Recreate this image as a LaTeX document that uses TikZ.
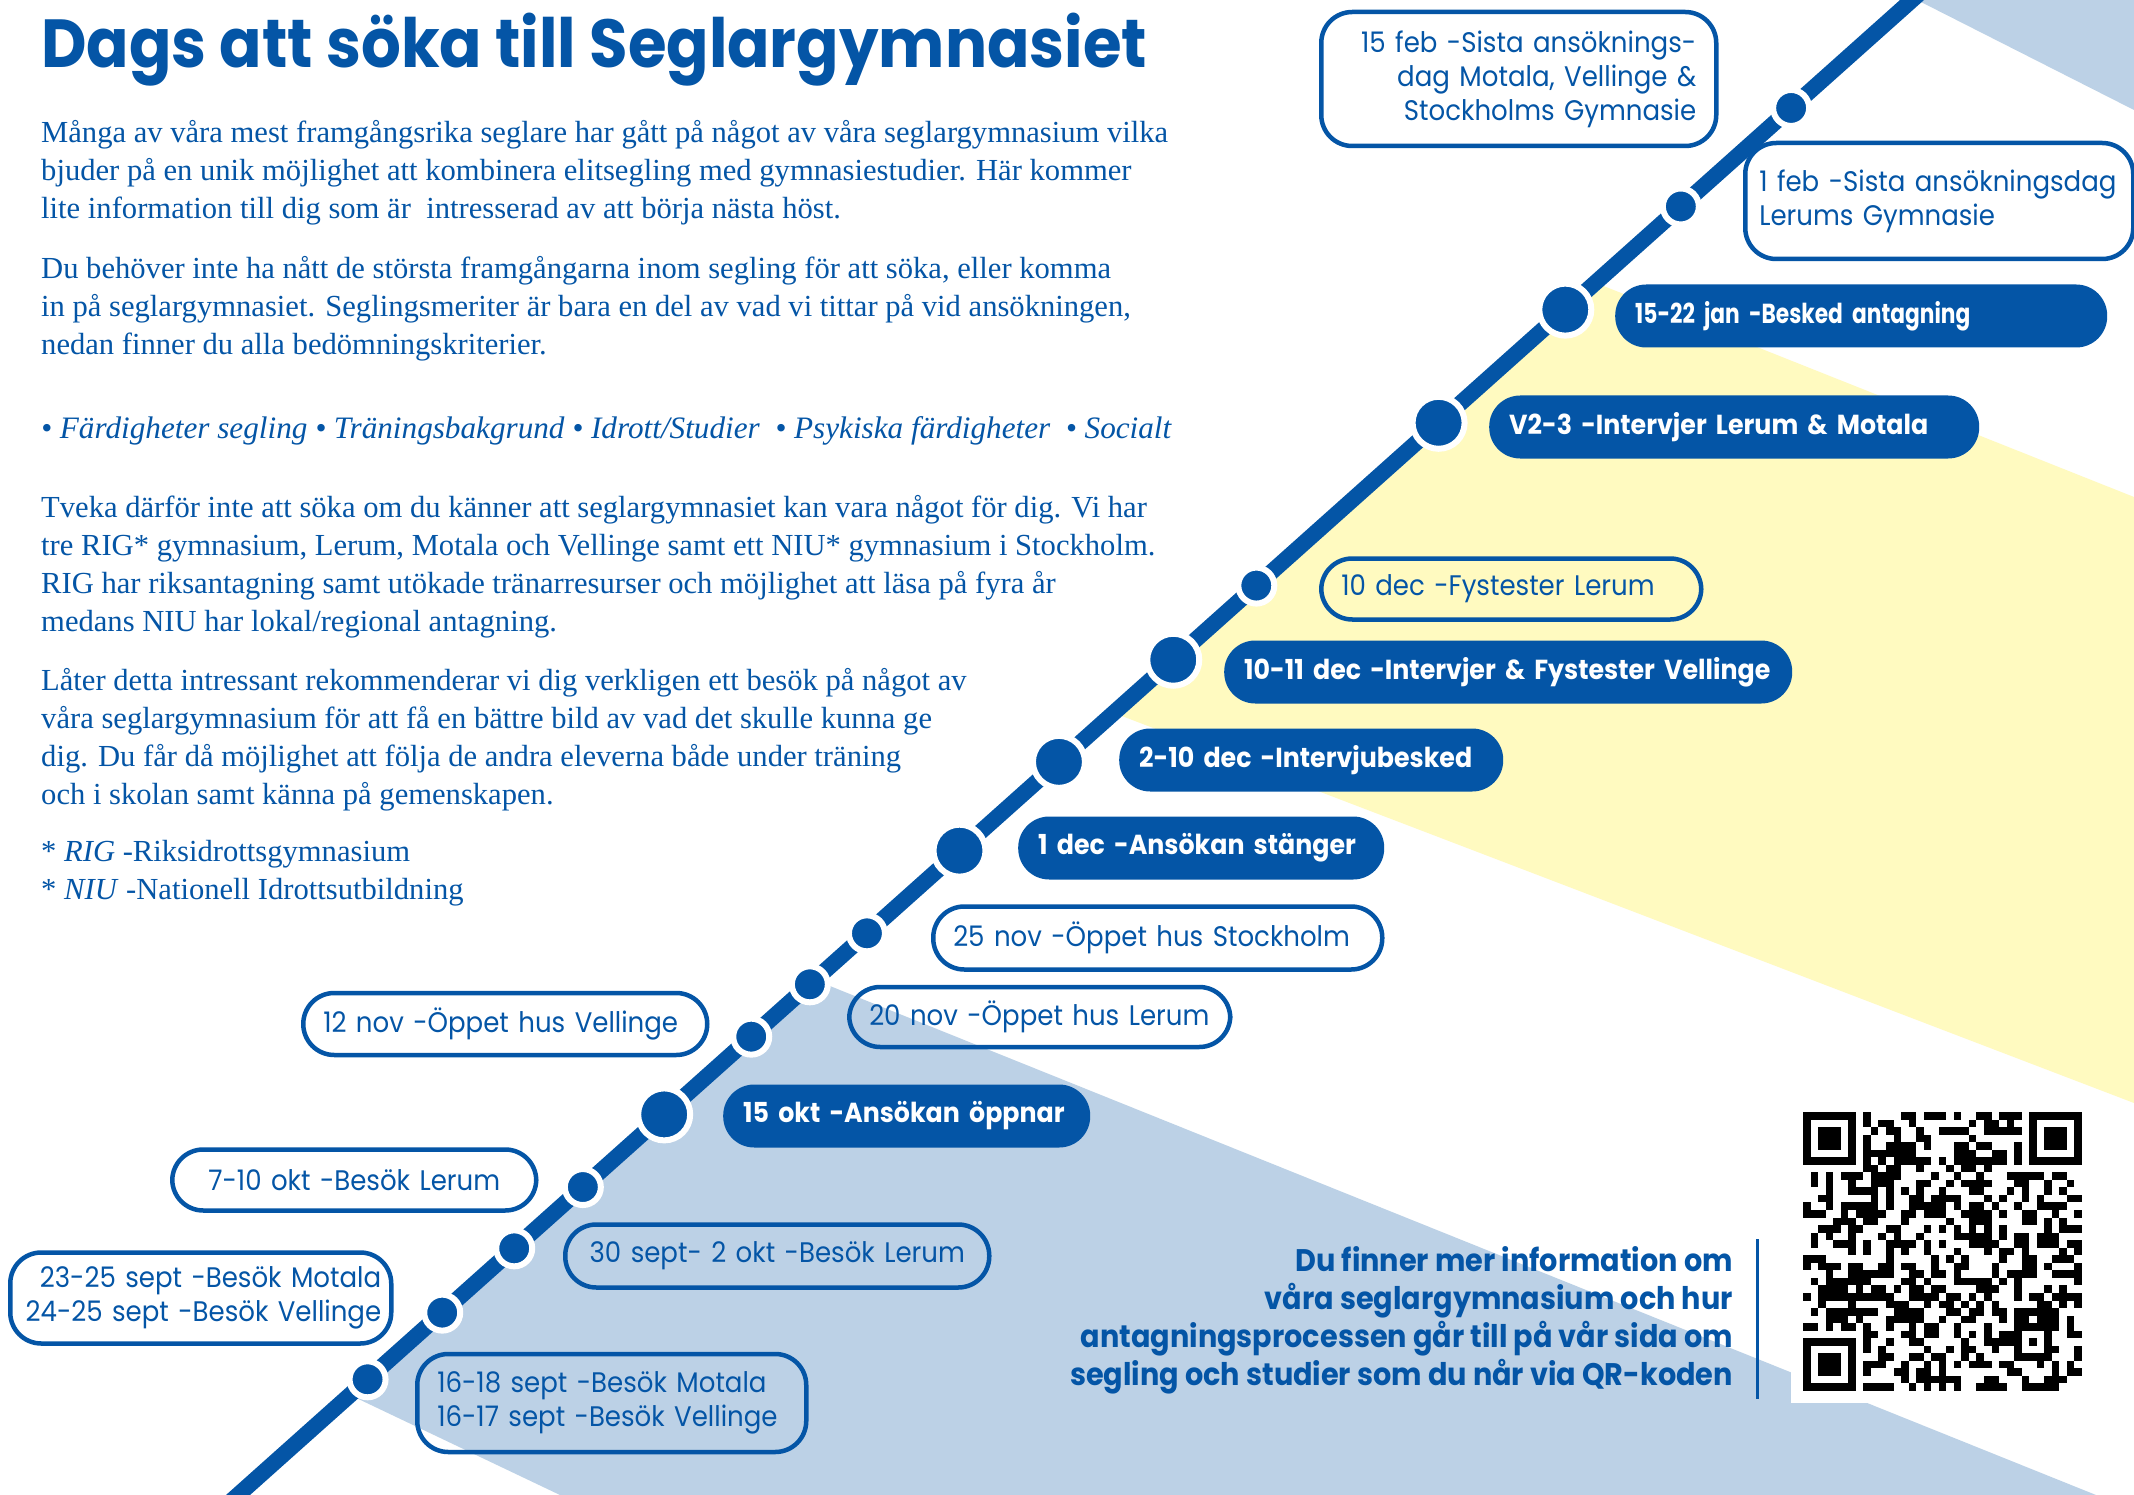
\documentclass[tikz,border=0pt]{standalone}
\usepackage{fontspec}
\setmainfont{Liberation Serif}
\newfontfamily\geo{Poppins}[FakeStretch=0.92]
\newfontfamily\geotight{Poppins}[FakeStretch=0.79]
\usetikzlibrary{calc}

\definecolor{sgblue}{RGB}{4,85,166}
\definecolor{sglight}{RGB}{188,209,230}
\definecolor{sgyellow}{RGB}{255,250,192}

\begin{document}
\begin{tikzpicture}[x=1pt,y=-1pt,
	dot/.style={circle,fill=sgblue,draw=white,line width=6pt,minimum size=#1,inner sep=0pt},
	pill/.style={rounded corners=31pt,minimum height=63pt,inner xsep=20pt,inner ysep=0pt,anchor=west,align=left,text width=#1},
	dark pill/.style={pill=#1,fill=sgblue,text=white,font=\geo\bfseries\fontsize{27.5}{34}\selectfont},
	line pill/.style={pill=#1,draw=sgblue,line width=4.5pt,text=sgblue,font=\geo\fontsize{28.3}{34}\selectfont},
	body/.style={anchor=north west,inner sep=0pt,align=left,text=sgblue,font=\fontsize{30.6}{38}\selectfont}
]

	\def \qm {7.54};

	\useasboundingbox (0,0) rectangle (2134,1495);
	\fill[white] (0,0) rectangle (2134,1495);

	% background
	\fill[sglight] (1917,0) -- (2134,0) -- (2134,110) -- cycle;
	\fill[sgyellow] (1596,283) -- (2134,497) -- (2134,1103) -- (1114,713) -- cycle;
	\fill[sglight] (815,980) -- (2096,1495) -- (560,1495) -- (350,1395) -- cycle;

	% text
	\node[anchor=base west,inner sep=0pt,text=sgblue,font=\geo\bfseries\fontsize{68}{72}\selectfont] (title) at (41,68) {Dags att söka till Seglargymnasiet};

	\node[body] (p1) at (41,120) {Många av våra mest framgångsrika seglare har gått på något av våra seglargymnasium vilka\\
		bjuder på en unik möjlighet att kombinera elitsegling med gymnasiestudier. Här kommer\\
		lite information till dig som är \ intresserad av att börja nästa höst.};
	\node[body] (p2) at (41,256) {Du behöver inte ha nått de största framgångarna inom segling för att söka, eller komma\\
		in på seglargymnasiet. Seglingsmeriter är bara en del av vad vi tittar på vid ansökningen,\\
		nedan finner du alla bedömningskriterier.};
	\node[body,font=\itshape\fontsize{31.2}{38}\selectfont] (crit) at (41,416) {• Färdigheter segling • Träningsbakgrund • Idrott/Studier \ • Psykiska färdigheter \ • Socialt};
	\node[body] (p3) at (41,495) {Tveka därför inte att söka om du känner att seglargymnasiet kan vara något för dig. Vi har\\
		tre RIG* gymnasium, Lerum, Motala och Vellinge samt ett NIU* gymnasium i Stockholm.\\
		RIG har riksantagning samt utökade tränarresurser och möjlighet att läsa på fyra år\\
		medans NIU har lokal/regional antagning.};
	\node[body] (p4) at (41,668) {Låter detta intressant rekommenderar vi dig verkligen ett besök på något av\\
		våra seglargymnasium för att få en bättre bild av vad det skulle kunna ge\\
		dig. Du får då möjlighet att följa de andra eleverna både under träning\\
		och i skolan samt känna på gemenskapen.};
	\node[body] (foot) at (41,840) {* \textit{RIG} -Riksidrottsgymnasium\\
		* \textit{NIU} -Nationell Idrottsutbildning};

	\node[anchor=east,inner sep=0pt,align=right,text=sgblue,font=\geo\bfseries\fontsize{31.2}{38}\selectfont] (info) at (1733,1320) {Du finner mer information om\\
		våra seglargymnasium och hur\\
		antagningsprocessen går till på vår sida om\\
		segling och studier som du når via QR-koden};
	\draw[sgblue,line width=3pt] (1757,1239) -- (1757,1399);

	% QR code
	\fill[white] (1791,1100) rectangle (2094,1403);
	\pgfmathsetseed{4711}
	\foreach \r in {0,...,36}
		\foreach \c in {0,...,36} {
			\pgfmathsetmacro\v{rnd}
			\ifdim\v pt<0.5pt
				\fill (1803+\c*\qm,1112+\r*\qm) rectangle ++(\qm,\qm);
			\fi
		}
	\foreach \a/\b in {0/0,30/0,0/30} {
		\fill[white] (1803+\a*\qm-\qm,1112+\b*\qm-\qm) rectangle ++(9*\qm,9*\qm);
		\fill (1803+\a*\qm,1112+\b*\qm) rectangle ++(7*\qm,7*\qm);
		\fill[white] (1803+\a*\qm+\qm,1112+\b*\qm+\qm) rectangle ++(5*\qm,5*\qm);
		\fill (1803+\a*\qm+2*\qm,1112+\b*\qm+2*\qm) rectangle ++(3*\qm,3*\qm);
	}
	\fill (1803+28*\qm,1112+28*\qm) rectangle ++(5*\qm,5*\qm);
	\fill[white] (1803+29*\qm,1112+29*\qm) rectangle ++(3*\qm,3*\qm);
	\fill (1803+30*\qm,1112+30*\qm) rectangle ++(\qm,\qm);
	\foreach \k in {8,10,...,28} {
		\fill (1803+\k*\qm,1112+6*\qm) rectangle ++(\qm,\qm);
		\fill (1803+6*\qm,1112+\k*\qm) rectangle ++(\qm,\qm);
	}

	% timeline
	\coordinate (a) at (238,1495);
	\coordinate (b) at (1912,0);
	\draw[sgblue,line width=16pt] ($(a)!-0.03!(b)$) -- ($(a)!1.03!(b)$);

	\foreach \t/\s [count=\i] in {0.0774/36,0.122/36,0.165/36,0.206/36,0.2546/52,0.3066/36,0.3416/36,0.3757/36,
		0.431/52,0.4904/52,0.5587/52,0.6083/36,0.7172/52,0.7929/52,0.8619/36,0.9278/36}
		\node[dot=\s] (d\i) at ($(a)!\t!(b)$) {};

	% events
	\node[line pill=355,align=right,minimum height=134pt] (feb15) at (1319,79) {15 feb -Sista ansöknings-\\dag Motala, Vellinge \&\\Stockholms Gymnasie};
	\node[line pill=360,inner xsep=14pt,minimum height=116pt] (feb1) at (1743,201) {1 feb -Sista ansökningsdag\\Lerums Gymnasie};
	\node[dark pill=452,font=\geotight\bfseries\fontsize{27.5}{34}\selectfont] (jan) at (1615,316) {15-22 jan -Besked antagning};
	\node[dark pill=450] (v23) at (1489,427) {V2-3 -Intervjer Lerum \& Motala};
	\node[line pill=340,minimum height=61pt] (dec10) at (1319,589) {10 dec -Fystester Lerum};
	\node[dark pill=528] (dec1011) at (1224,672) {10-11 dec -Intervjer \& Fystester Vellinge};
	\node[dark pill=344] (dec210) at (1119,760) {2-10 dec -Intervjubesked};
	\node[dark pill=326] (dec1) at (1018,848) {1 dec -Ansökan stänger};
	\node[line pill=409] (nov25) at (931,938) {25 nov -Öppet hus Stockholm};
	\node[line pill=341,minimum height=60pt] (nov20) at (847,1017) {20 nov -Öppet hus Lerum};
	\node[line pill=364,minimum height=62pt] (nov12) at (301,1024) {12 nov -Öppet hus Vellinge};
	\node[dark pill=327] (okt15) at (723,1116) {15 okt -Ansökan öppnar};
	\node[line pill=324,align=center,minimum height=61pt] (okt710) at (170,1180) {7-10 okt -Besök Lerum};
	\node[line pill=384,align=center] (sept30) at (563,1256) {30 sept- 2 okt -Besök Lerum};
	\node[line pill=361,inner xsep=10pt,align=right,minimum height=91pt] (sept2325) at (8,1298) {23-25 sept -Besök Motala\\24-25 sept -Besök Vellinge};
	\node[line pill=349,minimum height=98pt] (sept1618) at (415,1403) {16-18 sept -Besök Motala\\16-17 sept -Besök Vellinge};
\end{tikzpicture}
\end{document}
